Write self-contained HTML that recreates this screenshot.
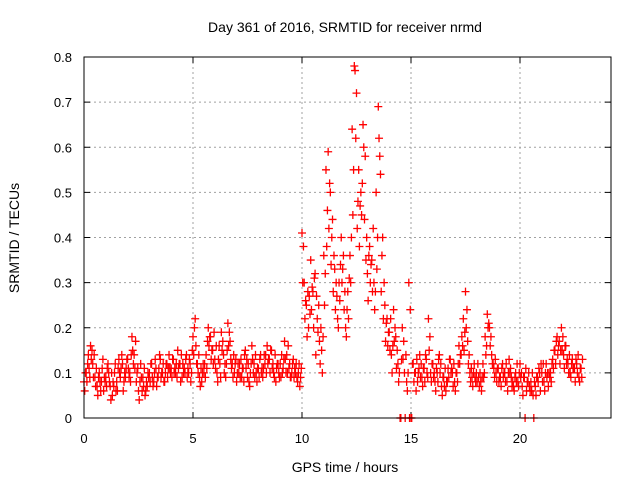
<!DOCTYPE html>
<html><head><meta charset="utf-8"><style>
body{margin:0;background:#fff}
svg{display:block;font-family:"Liberation Sans",sans-serif}
</style></head><body>
<svg id="chart" width="640" height="480">
<text x="345" y="32" font-size="14" text-anchor="middle">Day 361 of 2016, SRMTID for receiver nrmd</text>
<g id="grid"></g>
<g id="axes"></g>
<g id="points"></g>
<text x="345" y="472" font-size="14" text-anchor="middle">GPS time / hours</text>
<text transform="translate(19,238) rotate(-90)" font-size="14" text-anchor="middle">SRMTID / TECUs</text>
<rect x="84" y="57" width="527" height="361" fill="none" stroke="#000"/>
</svg>
<script>
const xTicks=[0,5,10,15,20];
const yTicks=[0,0.1,0.2,0.3,0.4,0.5,0.6,0.7,0.8];
const yTickLabels=["0","0.1","0.2","0.3","0.4","0.5","0.6","0.7","0.8"];
const valuesA=[.08,.10,.14,.16,.12,.09,.07,.10,.08,.06,
.09,.12,.07,.05,.10,.08,.13,.11,.06,.09,
.13,.10,.18,.14,.08,.06,.12,.09,.05,.07,
.10,.12,.08,.11,.09,.13,.10,.08,.12,.14,
.11,.13,.10,.15,.12,.09,.11,.14,.10,.08,
.18,.22,.12,.09,.08,.10,.14,.20,.18,.15,
.13,.10,.16,.19,.14,.09,.21,.17,.12,.10,
.08,.10,.13,.11,.15,.09,.07,.16,.12,.10,
.11,.14,.09,.12,.16,.13,.15,.10,.08,.12,
.12,.10,.17,.14,.11,.09,.13,.10,.08,.07,
.41,.30,.25,.20,.35,.28,.32,.22,.17,.15,
.36,.55,.59,.50,.44,.33,.27,.30,.40,.36,
.20,.28,.36,.64,.78,.72,.55,.50,.65,.58,
.32,.38,.35,.30,.50,.69,.54,.40,.25,.22,
.19,.14,.24,.18,.12,0,.20,.10,.08,.30,
0,.12,.10,.08,.14,.09,.11,.13,.22,.10,
.12,.08,.10,.14,.07,.09,.06,.11,.13,.10,
.08,.10,.16,.14,.22,.28,.17,.10,.09,.12,
.10,.09,.08,.12,.18,.23,.20,.14,.11,.10,
.11,.09,.12,.10,.08,.13,.09,.07,.10,.08,
.12,.07,.09,.06,.10,.08,.05,.07,.09,.10,
.10,.08,.12,.07,.10,.13,.15,.18,.17,.20,
.14,.16,.12,.10,.13,.11,.12,.09,.11];
const valuesB=[.06,.08,.11,.13,.09,.07,.05,.08,.11,.09,
.07,.10,.04,.08,.12,.06,.10,.14,.08,.11,
.11,.08,.15,.11,.10,.04,.09,.07,.06,.10,
.08,.09,.10,.07,.11,.09,.12,.10,.09,.11,
.09,.10,.12,.11,.08,.12,.10,.09,.13,.10,
.14,.16,.10,.07,.10,.12,.11,.16,.13,.12,
.11,.08,.12,.15,.10,.12,.16,.13,.09,.12,
.10,.12,.09,.08,.11,.12,.10,.13,.09,.08,
.09,.10,.11,.14,.12,.10,.11,.09,.11,.10,
.09,.11,.13,.10,.12,.10,.09,.12,.10,.09,
.30,.22,.18,.27,.24,.20,.14,.19,.12,.10,
.25,.38,.42,.34,.28,.24,.22,.26,.30,.24,
.18,.22,.30,.45,.77,.42,.38,.45,.60,.35,
.26,.30,.28,.24,.33,.62,.28,.22,.17,.16,
.15,.10,.17,.11,.08,0,.13,0,.06,0,
0,.08,.06,.10,.09,.07,.08,.10,.15,.08,
.09,.06,.08,.10,.05,.07,.08,.09,.10,.07,
.06,.08,.12,.18,.15,.20,.12,.08,.07,.09,
.08,.07,.06,.09,.14,.20,.16,.12,.09,.08,
.08,.07,.09,.08,.06,.10,.07,.06,.08,.07,
.09,.05,0,.08,.07,.06,0,.05,.08,.06,
.08,.06,.09,.10,.08,.11,.12,.14,.12,.15,
.11,.12,.10,.09,.11,.08,.10,.08,.09];
const valuesC=[.10,.12,.09,.15,.14,.11,.09,.06,.13,.08,
.11,.08,.10,.07,.06,.11,.09,.12,.10,.13,
.09,.14,.12,.17,.11,.08,.06,.11,.08,.09,
.12,.07,.13,.09,.14,.10,.08,.12,.11,.10,
.13,.11,.09,.12,.14,.10,.13,.11,.12,.15,
.20,.12,.14,.11,.12,.09,.17,.18,.15,.19,
.16,.13,.09,.17,.12,.15,.19,.11,.14,.13,
.12,.09,.11,.14,.13,.08,.12,.10,.14,.11,
.13,.11,.14,.10,.13,.15,.12,.14,.12,.09,
.14,.13,.10,.16,.09,.12,.11,.09,.12,.11,
.38,.26,.28,.23,.29,.31,.27,.25,.20,.18,
.32,.46,.52,.40,.36,.30,.20,.34,.33,.28,
.24,.31,.40,.55,.62,.48,.47,.52,.44,.40,
.36,.34,.42,.28,.40,.58,.36,.30,.21,.19,
.22,.16,.20,.15,.10,.13,.17,.14,.10,.24,
.12,.10,.13,.11,.12,.11,.14,.09,.18,.12,
.10,.11,.13,.12,.09,.11,.08,.13,.11,.12,
.10,.12,.14,.16,.19,.24,.14,.11,.10,.08,
.12,.10,.09,.10,.16,.21,.18,.12,.13,.11,
.09,.11,.10,.12,.10,.11,.08,.09,.12,.10,
.10,.09,.11,.08,.06,.10,.08,.09,.11,.12,
.12,.10,.10,.09,.12,.15,.17,.16,.15,.18,
.16,.13,.14,.12,.11,.13,.14,.11,.13];
const timeStep=0.1;
const NS="http://www.w3.org/2000/svg";
const X0=84,X1=611,Y0=418,Y1=57;
const xScale=t=>X0+t*21.8;
const yScale=v=>Y0-(v/0.8)*(Y0-Y1);
const grid=document.getElementById('grid'),axes=document.getElementById('axes'),pts=document.getElementById('points');
function mk(tag,attrs,parent){const e=document.createElementNS(NS,tag);for(const k in attrs)e.setAttribute(k,attrs[k]);parent.appendChild(e);return e;}
xTicks.forEach(t=>{const x=xScale(t);
 if(t>0){const g=mk('line',{x1:x,x2:x,y1:Y1,y2:Y0,stroke:'#a0a0a0','stroke-dasharray':'2,3'},grid);
 
 }
 mk('line',{x1:x,x2:x,y1:Y0,y2:Y0-6,stroke:'#000'},axes);
 mk('line',{x1:x,x2:x,y1:Y1,y2:Y1+6,stroke:'#000'},axes);
 const l=mk('text',{x:x,y:Y0+25,'font-size':13,'text-anchor':'middle'},axes);l.textContent=t;
 
 });
yTicks.forEach((v,i)=>{const y=yScale(v);
 if(v>0&&v<0.8){const g=mk('line',{x1:X0,x2:X1,y1:y,y2:y,stroke:'#a0a0a0','stroke-dasharray':'2,3'},grid);
 
 }
 mk('line',{x1:X0,x2:X0+6,y1:y,y2:y,stroke:'#000'},axes);
 mk('line',{x1:X1,x2:X1-6,y1:y,y2:y,stroke:'#000'},axes);
 const l=mk('text',{x:X0-12,y:y+5,'font-size':13,'text-anchor':'end'},axes);l.textContent=yTickLabels[i];
 
 });
function plus(t,v){const x=xScale(t),y=yScale(v);
 const p=mk('path',{d:`M${x-4} ${y}h8M${x} ${y-4}v8`,stroke:'#f00','stroke-width':1.3,fill:'none'},pts);
 
 }
valuesA.forEach((v,i)=>plus(i*timeStep,v));
valuesB.forEach((v,i)=>plus(i*timeStep+timeStep/3,v));
valuesC.forEach((v,i)=>plus(i*timeStep+2*timeStep/3,v));
</script>
</body></html>
